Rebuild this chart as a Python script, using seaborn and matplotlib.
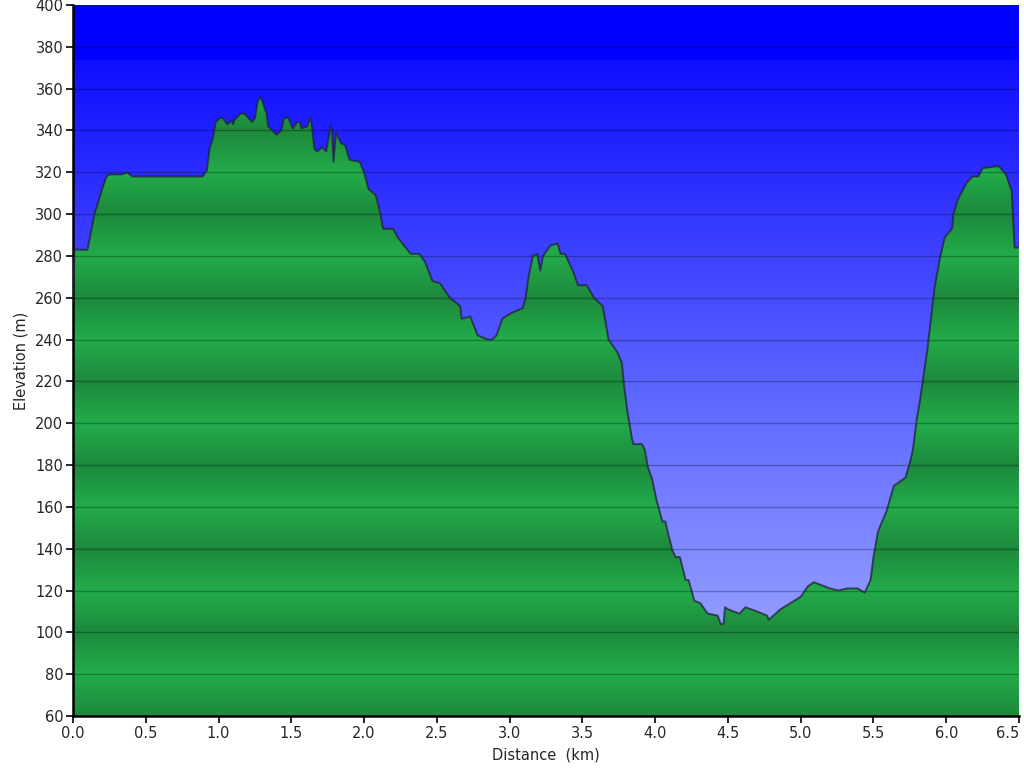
import numpy as np
import pandas as pd
import matplotlib
matplotlib.use('Agg')
import matplotlib.pyplot as plt
import seaborn as sns

# profile (km, m)
distance_km = [0.00, 0.01, 0.10, 0.13, 0.15, 0.17, 0.20, 0.23, 0.25, 0.34, 0.37, 0.41, 0.44,
               0.89, 0.92, 0.94, 0.96, 0.98, 1.01, 1.03, 1.06, 1.08, 1.09, 1.10, 1.11, 1.15,
               1.18, 1.23, 1.25, 1.27, 1.29, 1.31, 1.33, 1.34, 1.40, 1.43, 1.45, 1.48, 1.51,
               1.54, 1.56, 1.57, 1.61, 1.63, 1.64, 1.66, 1.68, 1.71, 1.74, 1.77, 1.78, 1.79,
               1.80, 1.81, 1.84, 1.87, 1.90, 1.97, 2.00, 2.03, 2.08, 2.11, 2.13, 2.20, 2.23,
               2.32, 2.38, 2.42, 2.47, 2.52, 2.59, 2.66, 2.67, 2.73, 2.78, 2.85, 2.88, 2.91,
               2.95, 2.97, 3.02, 3.09, 3.11, 3.13, 3.16, 3.19, 3.21, 3.23, 3.28, 3.33, 3.35,
               3.38, 3.44, 3.47, 3.53, 3.58, 3.64, 3.66, 3.68, 3.74, 3.77, 3.79, 3.81, 3.84,
               3.85, 3.91, 3.93, 3.95, 3.98, 4.01, 4.03, 4.05, 4.07, 4.09, 4.12, 4.14, 4.17,
               4.21, 4.23, 4.25, 4.27, 4.31, 4.36, 4.43, 4.45, 4.47, 4.48, 4.50, 4.58, 4.62,
               4.70, 4.77, 4.78, 4.86, 4.93, 5.00, 5.05, 5.09, 5.20, 5.26, 5.32, 5.39, 5.44,
               5.48, 5.50, 5.53, 5.59, 5.64, 5.72, 5.75, 5.77, 5.80, 5.82, 5.87, 5.92, 5.96,
               5.99, 6.04, 6.05, 6.08, 6.14, 6.18, 6.22, 6.25, 6.36, 6.41, 6.45, 6.47, 6.50]
elevation_m = [258, 283, 283, 294, 301, 305, 312, 318, 319, 319, 320, 318, 318,
               318, 321, 332, 336, 344, 346, 346, 343, 344, 345, 343, 345, 348,
               348, 344, 346, 354, 356, 352, 348, 342, 338, 340, 346, 346, 341,
               344, 344, 341, 342, 346, 343, 331, 330, 332, 330, 342, 340, 325,
               334, 339, 334, 333, 326, 325, 320, 312, 309, 301, 293, 293, 289,
               281, 281, 277, 268, 267, 260, 256, 250, 251, 242, 240, 240, 242,
               250, 251, 253, 255, 260, 270, 280, 281, 273, 280, 285, 286, 281,
               281, 272, 266, 266, 260, 256, 248, 240, 234, 229, 216, 205, 193,
               190, 190, 187, 179, 173, 163, 158, 153, 153, 147, 139, 136, 136,
               125, 125, 120, 115, 114, 109, 108, 104, 104, 112, 111, 109, 112,
               110, 108, 106, 111, 114, 117, 122, 124, 121, 120, 121, 121, 119,
               125, 136, 148, 158, 170, 174, 181, 187, 203, 211, 235, 265, 280,
               289, 293, 300, 307, 315, 318, 318, 322, 323, 319, 311, 284, 284]

x_ticks = np.arange(0, 6.51, 0.5)
y_ticks = np.arange(60, 401, 20)
x_label = 'Distance  (km)'
y_label = 'Elevation (m)'

df = pd.DataFrame({'distance': distance_km, 'elevation': elevation_m})

sns.set_style('ticks')
plt.rcParams['font.family'] = ['DejaVu Sans']
plt.rcParams['font.sans-serif'] = ['DejaVu Sans']

fig = plt.figure(figsize=(10.24, 7.68), dpi=100)
ax = fig.add_axes([73 / 1024, 52 / 768, 946 / 1024, 711 / 768])
ax.set_xlim(0, 6.5)
ax.set_ylim(60, 400)

# sky gradient, bright blue band on top
e = np.linspace(400, 60, 700)
r = np.interp(e, [60, 96, 211, 300, 374], [168, 150, 95, 52, 14])
g = np.interp(e, [60, 96, 211, 300, 374], [176, 160, 104, 55, 14])
r[e > 374] = 0
g[e > 374] = 0
sky = np.stack([r, g, np.full_like(r, 255)], axis=1)[:, None, :] / 255
ax.imshow(sky, extent=[0, 6.5, 60, 400], aspect='auto', zorder=0)

# striped green terrain (linear ramps, light at 80/120/..., dark at 60/100/...)
t = 1 - np.abs(((e - 80) / 40 + 0.5) % 1 - 0.5) * 2
dark = np.array([29, 137, 60]) / 255
light = np.array([35, 172, 75]) / 255
ground = (dark[None, :] + t[:, None] * (light - dark)[None, :])[:, None, :]
poly = ax.fill_between(df['distance'], df['elevation'], 60, color='none', lw=0)
img = ax.imshow(ground, extent=[0, 6.5, 60, 400], aspect='auto', zorder=1)
img.set_clip_path(poly.get_paths()[0], transform=ax.transData)

for yv in y_ticks[1:-1]:
    ax.axhline(yv, color='black', alpha=0.28, lw=1, zorder=2)

sns.lineplot(data=df, x='distance', y='elevation', ax=ax, color='#22223a',
             alpha=0.75, lw=1.4, zorder=3)

ax.set_xticks(x_ticks)
ax.set_xticklabels([f'{v:.1f}' for v in x_ticks])
ax.get_xticklabels()[-1].set_horizontalalignment('right')
ax.set_yticks(y_ticks)
ax.tick_params(axis='both', labelsize=10.5, length=5, width=1.2, color='black', pad=2)
ax.set_xlabel(x_label, fontsize=10.5, labelpad=5)
ax.set_ylabel(y_label, fontsize=10.5, labelpad=5)
for side in ['top', 'right']:
    ax.spines[side].set_visible(False)
for side in ['left', 'bottom']:
    ax.spines[side].set_linewidth(1.8)
    ax.spines[side].set_color('black')
ax.grid(False)

plt.savefig('out.png', dpi=100)
